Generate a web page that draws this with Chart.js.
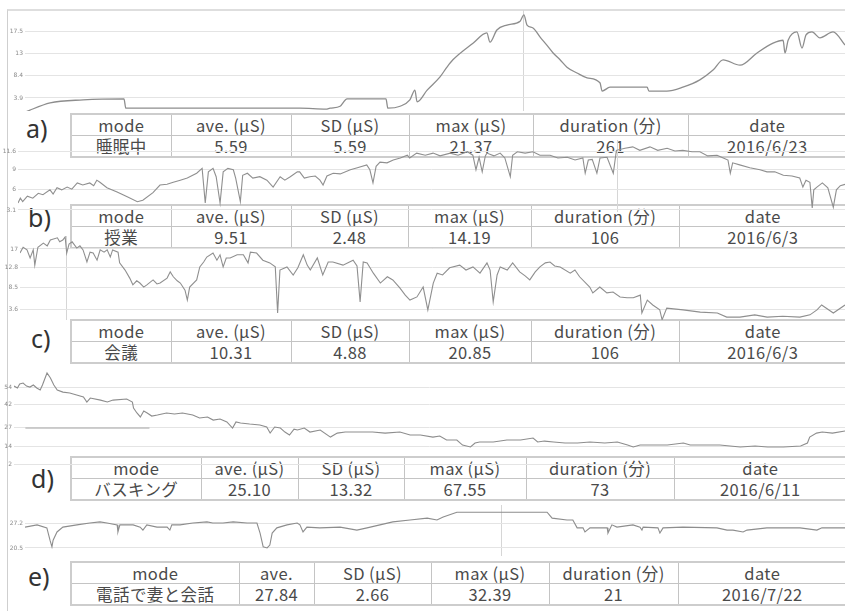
<!DOCTYPE html>
<html>
<head>
<meta charset="utf-8">
<script src="https://cdn.jsdelivr.net/npm/chart.js@4.4.0/dist/chart.umd.min.js"></script>
<style>
  body { margin: 0; background: #fff; width: 845px; height: 611px; overflow: hidden; position: relative;
         font-family: "Noto Sans CJK JP", "Noto Sans", sans-serif; }
  #frame { position: absolute; left: 7px; top: 9px; width: 860px; height: 640px;
           border-left: 1px solid #cfcfcf; border-top: 2px solid #dedede; }
  canvas { position: absolute; z-index: 2; }
  table.stats { position: absolute; z-index: 1; border-collapse: collapse; table-layout: fixed;
                color: #4a4a4a; font-size: 16.5px; letter-spacing: 0.4px; border: 2px solid #cdcdcd; }
  table.stats td { border: 1px solid #c4c4c4; height: 20px; padding: 0; text-align: center;
                   line-height: 20px; white-space: nowrap; overflow: hidden; }
  .tag { position: absolute; font-family: "Noto Sans", sans-serif; font-size: 25px; line-height: 26px; color: #333; }
</style>
</head>
<body>
<div id="frame"></div>
<script>
// 皮膚電気活動 (EDA) のログ 5 本 + 集計表

// 表の値
const modes = ['睡眠中', '授業', '会議', 'バスキング', '電話で妻と会話'];
const aveHeads = ['ave. (μS)', 'ave. (μS)', 'ave. (μS)', 'ave. (μS)', 'ave.'];
const aveVals = ['5.59', '9.51', '10.31', '25.10', '27.84'];
const sdVals = ['5.59', '2.48', '4.88', '13.32', '2.66'];
const maxVals = ['21.37', '14.19', '20.85', '67.55', '32.39'];
const durations = [261, 106, 106, 73, 21];
const dates = ['2016/6/23', '2016/6/3', '2016/6/3', '2016/6/11', '2016/7/22'];
const tags = ['a)', 'b)', 'c)', 'd)', 'e)'];

// y 軸の目盛
const aTicks = [3.9, 8.4, 13, 17.5];
const bTicks = [3.1, 6, 9, 11.6];
const cTicks = [3.6, 8.5, 12.8, 17];
const dTicks = [2, 14, 27, 42, 54];
const eTicks = [20.5, 27.2];

// カーソル位置 (分)
const cursors = [158.8, 76.8, 6.0, null, 12.2];

// a) 睡眠中  経過時間(分) / μS
const aTime = [0, 8.0, 18.5, 31.5, 32.1, 55.7, 87.5, 95.8, 97.1, 100.3, 102.5, 113.6, 114.9, 115.5, 119.4,
  122.5, 124.1, 124.8, 128.0, 132.1, 134.3, 136.2, 142.6, 147.0, 148.0, 150.2, 153.4, 157.6, 158.8, 159.8,
  161.7, 163.9, 166.1, 168.1, 170.3, 172.5, 175.7, 178.9, 183.0, 183.7, 186.2, 198.0, 198.6, 204.3, 209.4,
  214.8, 219.0, 222.2, 227.6, 233.0, 238.1, 241.3, 241.9, 242.9, 245.7, 247.3, 248.6, 250.5, 253.0, 257.2, 261];
const aEda = [1.0, 2.9, 3.5, 3.7, 1.8, 1.8, 1.8, 1.6, 1.8, 2.2, 3.7, 3.7, 3.7, 1.8, 2.2,
  3.5, 5.5, 3.1, 5.5, 8.2, 10.2, 11.7, 15.1, 17.2, 15.3, 17.8, 18.8, 19.6, 20.9, 18.8,
  18.2, 16.4, 14.7, 13.1, 11.7, 10.2, 9.0, 8.0, 7.0, 5.3, 6.1, 6.1, 5.3, 5.3, 6.1,
  7.6, 9.6, 11.7, 10.6, 13.1, 15.1, 15.7, 13.1, 15.7, 17.4, 14.1, 16.8, 17.4, 16.2, 17.4, 14.7];

// b) 授業
const bTime = [0, 0.3, 0.6, 1.2, 1.9, 2.6, 3.2, 4.1, 4.5, 5.0, 5.6, 6.3, 6.9, 7.6, 8.3, 9.2, 9.7, 10.1, 10.5,
  11.4, 12.7, 14.0, 15.3, 16.0, 17.3, 18.2, 19.1, 19.9, 20.8, 21.7, 22.9, 23.6, 24.0, 24.4, 25.0, 25.4,
  25.9, 26.3, 26.9, 27.6, 27.9, 28.5, 28.8, 29.4, 30.1, 31.0, 31.9, 32.7, 33.6, 34.2, 34.9, 35.8, 36.1,
  36.7, 37.4, 38.1, 38.7, 39.1, 39.6, 40.4, 41.3, 42.6, 43.5, 44.7, 45.1, 45.5, 45.9, 46.4, 47.3, 48.1,
  49.0, 49.9, 50.2, 51.1, 52.2, 53.2, 54.1, 55.4, 56.4, 57.6, 58.3, 58.7, 59.1, 59.5, 59.9, 60.1, 61.0,
  61.8, 62.4, 63.1, 63.4, 64.0, 65.0, 66.0, 66.9, 68.2, 69.2, 70.4, 71.4, 72.4, 72.7, 73.1, 73.6, 74.2,
  74.6, 75.5, 76.3, 76.7, 77.8, 78.8, 79.7, 81.0, 82.0, 83.2, 84.2, 85.2, 86.4, 87.4, 88.4, 89.6, 90.4,
  91.0, 91.3, 91.6, 92.5, 93.8, 95.1, 96.0, 97.0, 98.1, 99.2, 100.2, 100.6, 101.0, 101.5, 101.8, 102.0,
  102.4, 103.1, 103.8, 104.5, 104.9, 105.4, 106];
const bEda = [4.1, 4.8, 4.3, 5.1, 4.8, 5.5, 5.3, 6.0, 5.4, 6.3, 6.0, 6.4, 6.1, 7.0, 6.7, 7.0, 6.6, 7.4, 7.1,
  6.3, 5.7, 5.0, 4.3, 4.5, 5.6, 6.7, 6.8, 7.1, 7.4, 7.7, 8.4, 9.1, 4.1, 8.6, 9.1, 7.9,
  4.1, 8.6, 9.1, 8.9, 7.7, 4.3, 8.1, 8.4, 7.7, 7.9, 7.4, 6.4, 7.9, 7.4, 7.9, 8.6, 8.6,
  7.7, 7.9, 8.0, 7.4, 6.7, 8.0, 8.4, 8.3, 8.9, 9.2, 9.6, 8.9, 7.0, 9.4, 10.0, 9.9, 10.3,
  10.6, 11.0, 10.6, 11.3, 11.0, 11.3, 10.9, 11.3, 11.0, 11.5, 11.0, 8.9, 10.7, 8.6, 10.9, 11.3, 10.9,
  11.3, 10.6, 7.9, 11.0, 11.5, 11.3, 11.5, 11.0, 11.0, 10.6, 10.7, 10.3, 10.6, 8.4, 10.3, 10.4, 8.4,
  10.6, 10.7, 8.4, 11.7, 12.0, 12.2, 11.7, 12.2, 11.7, 12.0, 11.6, 11.7, 11.5, 11.5, 10.9, 11.0, 10.6,
  10.3, 8.4, 9.9, 9.6, 9.2, 8.9, 8.6, 8.6, 8.1, 8.0, 7.7, 6.4, 7.4, 7.1, 3.4, 6.0,
  6.4, 7.0, 6.3, 3.5, 6.0, 6.6, 6.8];

// c) 会議
const cTime = [0, 0.4, 0.9, 1.3, 1.7, 1.9, 2.3, 3.0, 3.5, 3.9, 4.8, 5.1, 5.5, 5.8, 6.0, 6.3, 6.7, 7.3, 7.7,
  8.1, 8.6, 9.0, 9.4, 9.9, 10.3, 10.8, 11.2, 11.6, 11.9, 12.6, 12.8, 13.5, 14.1, 14.5, 15.0, 15.4, 15.9,
  16.3, 17.1, 17.6, 18.0, 18.9, 19.3, 19.7, 20.2, 20.6, 21.2, 21.5, 21.8, 22.7, 23.1, 23.6, 24.0, 24.8,
  25.3, 25.7, 26.1, 26.5, 27.0, 27.9, 28.7, 29.3, 29.6, 30.4, 31.2, 32.1, 32.8, 33.1, 33.4, 34.3, 35.1,
  35.7, 36.4, 36.9, 37.3, 38.2, 38.9, 39.6, 40.2, 41.5, 42.8, 43.3, 43.7, 44.1, 44.6, 45.4, 46.3, 47.2,
  47.9, 48.8, 49.5, 50.1, 51.0, 51.8, 52.4, 53.1, 53.6, 54.3, 55.2, 56.5, 57.3, 58.2, 59.1, 60.0, 60.4,
  60.8, 61.3, 61.7, 62.6, 63.3, 64.2, 64.9, 65.5, 66.2, 66.8, 67.5, 68.1, 68.7, 69.4, 70.7, 71.3, 71.9,
  73.2, 73.6, 74.5, 75.4, 76.2, 77.1, 78.0, 78.8, 79.7, 79.9, 80.6, 81.3, 82.2, 82.5, 83.1, 85.2, 87.4,
  89.6, 90.8, 92.5, 94.4, 96.0, 98.0, 100.2, 101.5, 102.4, 103.0, 104.5, 106];
const cEda = [16.1, 17.4, 16.8, 15.0, 16.8, 13.4, 17.4, 18.3, 17.7, 19.0, 19.5, 18.6, 19.0, 19.7, 16.1, 18.1, 18.6, 17.2, 17.7,
  16.8, 14.1, 16.3, 16.1, 14.5, 16.8, 16.3, 16.8, 15.2, 16.8, 16.3, 13.9, 12.3, 10.5, 9.0, 9.9, 9.4, 8.5,
  9.0, 10.1, 9.2, 9.4, 10.5, 11.9, 10.8, 9.9, 9.4, 7.8, 5.6, 8.5, 10.1, 13.0, 14.1, 15.2, 16.1,
  14.5, 15.7, 13.0, 15.0, 15.0, 15.7, 15.7, 13.9, 16.3, 16.1, 14.5, 13.9, 13.0, 2.7, 12.3, 13.0, 11.2,
  12.8, 15.7, 13.4, 12.3, 15.0, 11.2, 14.1, 14.1, 13.4, 14.5, 13.2, 5.2, 14.1, 13.9, 11.6, 9.4, 10.8,
  10.1, 8.3, 6.7, 5.6, 6.3, 8.5, 3.4, 9.4, 11.6, 11.2, 12.8, 13.4, 12.3, 13.0, 11.6, 13.9, 12.3,
  5.2, 11.2, 13.0, 12.3, 13.9, 11.9, 11.0, 10.1, 11.9, 13.0, 13.9, 14.1, 13.2, 13.0, 11.6, 12.3, 10.8,
  8.5, 7.2, 8.5, 7.2, 7.4, 6.3, 6.1, 6.1, 6.7, 2.7, 5.6, 4.5, 3.4, 1.2, 3.8, 3.4, 2.9,
  2.7, 1.8, 1.8, 2.3, 1.8, 2.0, 1.8, 2.3, 3.4, 4.5, 2.7, 4.5];

// d) バスキング
const dTime = [0, 0.3, 0.5, 0.8, 1.1, 1.4, 1.7, 2.0, 2.3, 2.5, 2.9, 3.2, 3.5, 3.8, 4.3, 4.9, 5.5, 6.1, 6.4,
  6.7, 7.6, 8.2, 8.7, 9.9, 10.4, 10.5, 10.8, 11.1, 11.4, 11.7, 12.1, 12.6, 13.4, 14.1, 14.8, 15.7, 16.3,
  17.0, 17.5, 18.1, 18.7, 19.2, 19.5, 19.9, 20.7, 21.6, 22.2, 22.5, 22.9, 23.4, 23.8, 24.2, 24.6, 24.9,
  25.5, 26.0, 26.9, 27.8, 28.4, 29.1, 29.8, 30.8, 31.5, 32.6, 33.9, 34.8, 35.7, 36.8, 37.4, 38.0, 38.9,
  39.4, 40.1, 40.5, 40.9, 42.1, 43.3, 44.5, 45.6, 46.0, 46.6, 47.4, 48.4, 49.5, 50.6, 51.9, 53.0, 53.9,
  54.4, 55.0, 56.1, 57.4, 58.8, 59.4, 60.3, 62.0, 63.8, 65.1, 66.2, 67.6, 69.1, 69.7, 69.9, 70.5, 71.0,
  71.9, 73];
const dEda = [54.7, 53.4, 56.1, 56.7, 54.7, 54.0, 55.4, 53.4, 52.0, 55.4, 63.5, 60.1, 55.4, 52.0, 50.6, 50.0, 48.6, 47.3, 43.9,
  46.6, 45.2, 43.9, 45.2, 45.9, 43.9, 39.8, 36.5, 33.8, 37.8, 36.5, 34.4, 35.1, 36.5, 35.8, 36.5, 35.1, 33.1,
  33.8, 31.7, 32.4, 30.4, 26.3, 30.4, 29.7, 29.0, 28.4, 27.0, 22.9, 27.0, 26.3, 23.6, 21.6, 25.6, 25.0,
  26.3, 23.6, 25.0, 20.2, 22.9, 23.6, 23.6, 23.6, 23.6, 22.9, 23.6, 21.6, 21.6, 20.2, 20.9, 18.2, 18.2,
  14.8, 13.5, 16.2, 16.9, 16.9, 18.2, 18.2, 19.6, 16.9, 17.5, 16.9, 16.2, 16.2, 16.9, 16.2, 16.9, 14.8,
  13.5, 14.8, 14.8, 14.8, 16.2, 14.8, 14.8, 14.8, 13.5, 14.2, 13.5, 13.5, 14.2, 16.2, 20.2, 22.9, 23.6,
  22.9, 24.3];
const dRefTime = [1.0, 11.9];
const dRefEda = [26.3, 26.3];

// e) 電話で妻と会話
const eTime = [0, 0.31, 0.56, 0.64, 0.69, 0.72, 0.82, 0.97, 1.33, 1.66, 1.92, 2.10, 2.36, 2.38, 2.43, 2.77,
  2.95, 3.02, 3.12, 3.38, 3.64, 3.71, 3.76, 3.97, 4.30, 4.66, 4.81, 5.07, 5.33, 5.69, 5.94, 6.02, 6.10,
  6.20, 6.27, 6.33, 6.45, 6.71, 6.97, 7.04, 7.12, 7.22, 7.55, 8.07, 8.50, 8.76, 9.09, 9.42, 9.86, 10.30,
  10.55, 10.71, 11.06, 11.32, 12.16, 13.01, 13.37, 13.50, 13.88, 14.03, 14.14, 14.29, 14.34, 14.47,
  14.91, 14.93, 15.03, 15.16, 15.57, 15.75, 15.80, 15.83, 16.21, 16.26, 16.34, 16.85, 17.72, 17.98,
  18.13, 18.39, 18.49, 19.00, 19.85, 20.28, 20.41, 21];
const eEda = [26.1, 26.7, 25.9, 22.6, 20.8, 22.6, 24.8, 26.1, 26.7, 27.2, 27.5, 27.2, 26.7, 24.8, 26.7, 26.7,
  26.1, 25.3, 26.7, 26.1, 26.1, 25.3, 26.7, 26.7, 27.2, 27.5, 27.2, 27.2, 27.5, 27.2, 27.2, 24.5, 20.8,
  20.5, 21.3, 24.5, 25.9, 26.7, 27.2, 26.7, 24.8, 26.1, 25.9, 26.1, 25.3, 25.9, 26.7, 27.5, 28.0, 28.5,
  28.0, 28.8, 30.1, 30.1, 30.1, 30.1, 30.1, 28.5, 28.0, 28.0, 25.9, 25.9, 24.8, 25.9,
  25.9, 24.5, 26.7, 26.1, 26.7, 26.1, 25.3, 26.1, 25.9, 24.5, 25.9, 26.1, 25.9, 25.3,
  25.3, 24.8, 25.3, 25.9, 25.9, 25.3, 25.9, 25.9];

// 配置 (left, top, width, height, y軸幅) と y 範囲
const panels = [
  { box: [7, 10, 838, 101, 18], y: [1.23, 21.88], ticks: aTicks, smooth: true,
    lines: [{ t: aTime, v: aEda, color: '#8d8d8d', w: 1.3 }] },
  { box: [0, 140, 845, 72, 18], y: [2.81, 13.19], ticks: bTicks,
    lines: [{ t: bTime, v: bEda, color: '#8f8f8f', w: 1.1 }] },
  { box: [2, 236, 843, 84, 18], y: [1.15, 19.9], ticks: cTicks,
    lines: [{ t: cTime, v: cEda, color: '#8f8f8f', w: 1.1 }] },
  { box: [0, 368, 845, 102, 14], y: [-2.05, 66.9], ticks: dTicks,
    lines: [{ t: dTime, v: dEda, color: '#8d8d8d', w: 1.1 }, { t: dRefTime, v: dRefEda, color: '#a8a8a8', w: 1 }] },
  { box: [7, 505, 838, 51, 18], y: [18.35, 32.03], ticks: eTicks,
    lines: [{ t: eTime, v: eEda, color: '#8d8d8d', w: 1.1 }] }
];

// 表の配置: 上端と列の区切り
const tables = [
  { top: 113, cols: [70, 170, 290, 408, 532, 687, 846] },
  { top: 204, cols: [70, 170, 290, 407, 530, 678, 846] },
  { top: 319, cols: [70, 170, 290, 408, 530, 678, 846] },
  { top: 456, cols: [70, 200, 297, 403, 525, 673, 846] },
  { top: 561, cols: [70, 238, 313, 430, 548, 677, 846] }
];
const tagPos = [[26, 115], [28, 204], [31, 325], [31, 465], [28, 563]];

function pts(ts, vs) {
  return ts.map((t, i) => ({ x: t, y: vs[i] }));
}

panels.forEach((p, k) => {
  const cv = document.createElement('canvas');
  const [l, t, w, h, axisW] = p.box;
  cv.width = w; cv.height = h;
  cv.style.left = l + 'px'; cv.style.top = t + 'px';
  document.body.appendChild(cv);

  new Chart(cv, {
    type: 'line',
    data: {
      datasets: p.lines.map(s => ({
        data: pts(s.t, s.v),
        borderColor: s.color,
        borderWidth: s.w,
        pointRadius: 0,
        tension: 0,
        cubicInterpolationMode: p.smooth ? 'monotone' : 'default'
      }))
    },
    options: {
      responsive: false,
      animation: false,
      events: [],
      layout: { padding: 0 },
      plugins: { legend: { display: false }, tooltip: { enabled: false } },
      scales: {
        x: {
          type: 'linear', min: 0, max: durations[k],
          afterBuildTicks: s => { if (cursors[k] != null) s.ticks = [{ value: cursors[k] }]; },
          ticks: { display: false },
          grid: { display: cursors[k] != null, color: '#d6d6d6', drawTicks: false },
          border: { display: true, color: '#c4c4c4' }
        },
        y: {
          min: p.y[0], max: p.y[1],
          afterBuildTicks: s => { s.ticks = p.ticks.map(v => ({ value: v })); },
          afterFit: s => { s.width = axisW; s.paddingTop = 0; s.paddingBottom = 0; },
          ticks: { font: { size: 6, family: 'DejaVu Sans' }, color: '#8a8a8a', padding: 2,
                   callback: v => String(v) },
          grid: { color: '#e4e4e4', drawTicks: false },
          border: { display: false }
        }
      }
    }
  });
});

// 集計表
tables.forEach((tb, k) => {
  const table = document.createElement('table');
  table.className = 'stats';
  table.style.left = tb.cols[0] + 'px';
  table.style.top = tb.top + 'px';
  table.style.width = (tb.cols[6] - tb.cols[0]) + 'px';
  const cg = document.createElement('colgroup');
  for (let i = 0; i < 6; i++) {
    const c = document.createElement('col');
    c.style.width = (tb.cols[i + 1] - tb.cols[i]) + 'px';
    cg.appendChild(c);
  }
  table.appendChild(cg);
  const rows = [
    ['mode', aveHeads[k], 'SD (μS)', 'max (μS)', 'duration (分)', 'date'],
    [modes[k], aveVals[k], sdVals[k], maxVals[k], String(durations[k]), dates[k]]
  ];
  rows.forEach(r => {
    const tr = document.createElement('tr');
    r.forEach(txt => {
      const td = document.createElement('td');
      td.textContent = txt;
      tr.appendChild(td);
    });
    table.appendChild(tr);
  });
  document.body.appendChild(table);

  const tag = document.createElement('div');
  tag.className = 'tag';
  tag.textContent = tags[k];
  tag.style.left = tagPos[k][0] + 'px';
  tag.style.top = tagPos[k][1] + 'px';
  document.body.appendChild(tag);
});
</script>
</body>
</html>
